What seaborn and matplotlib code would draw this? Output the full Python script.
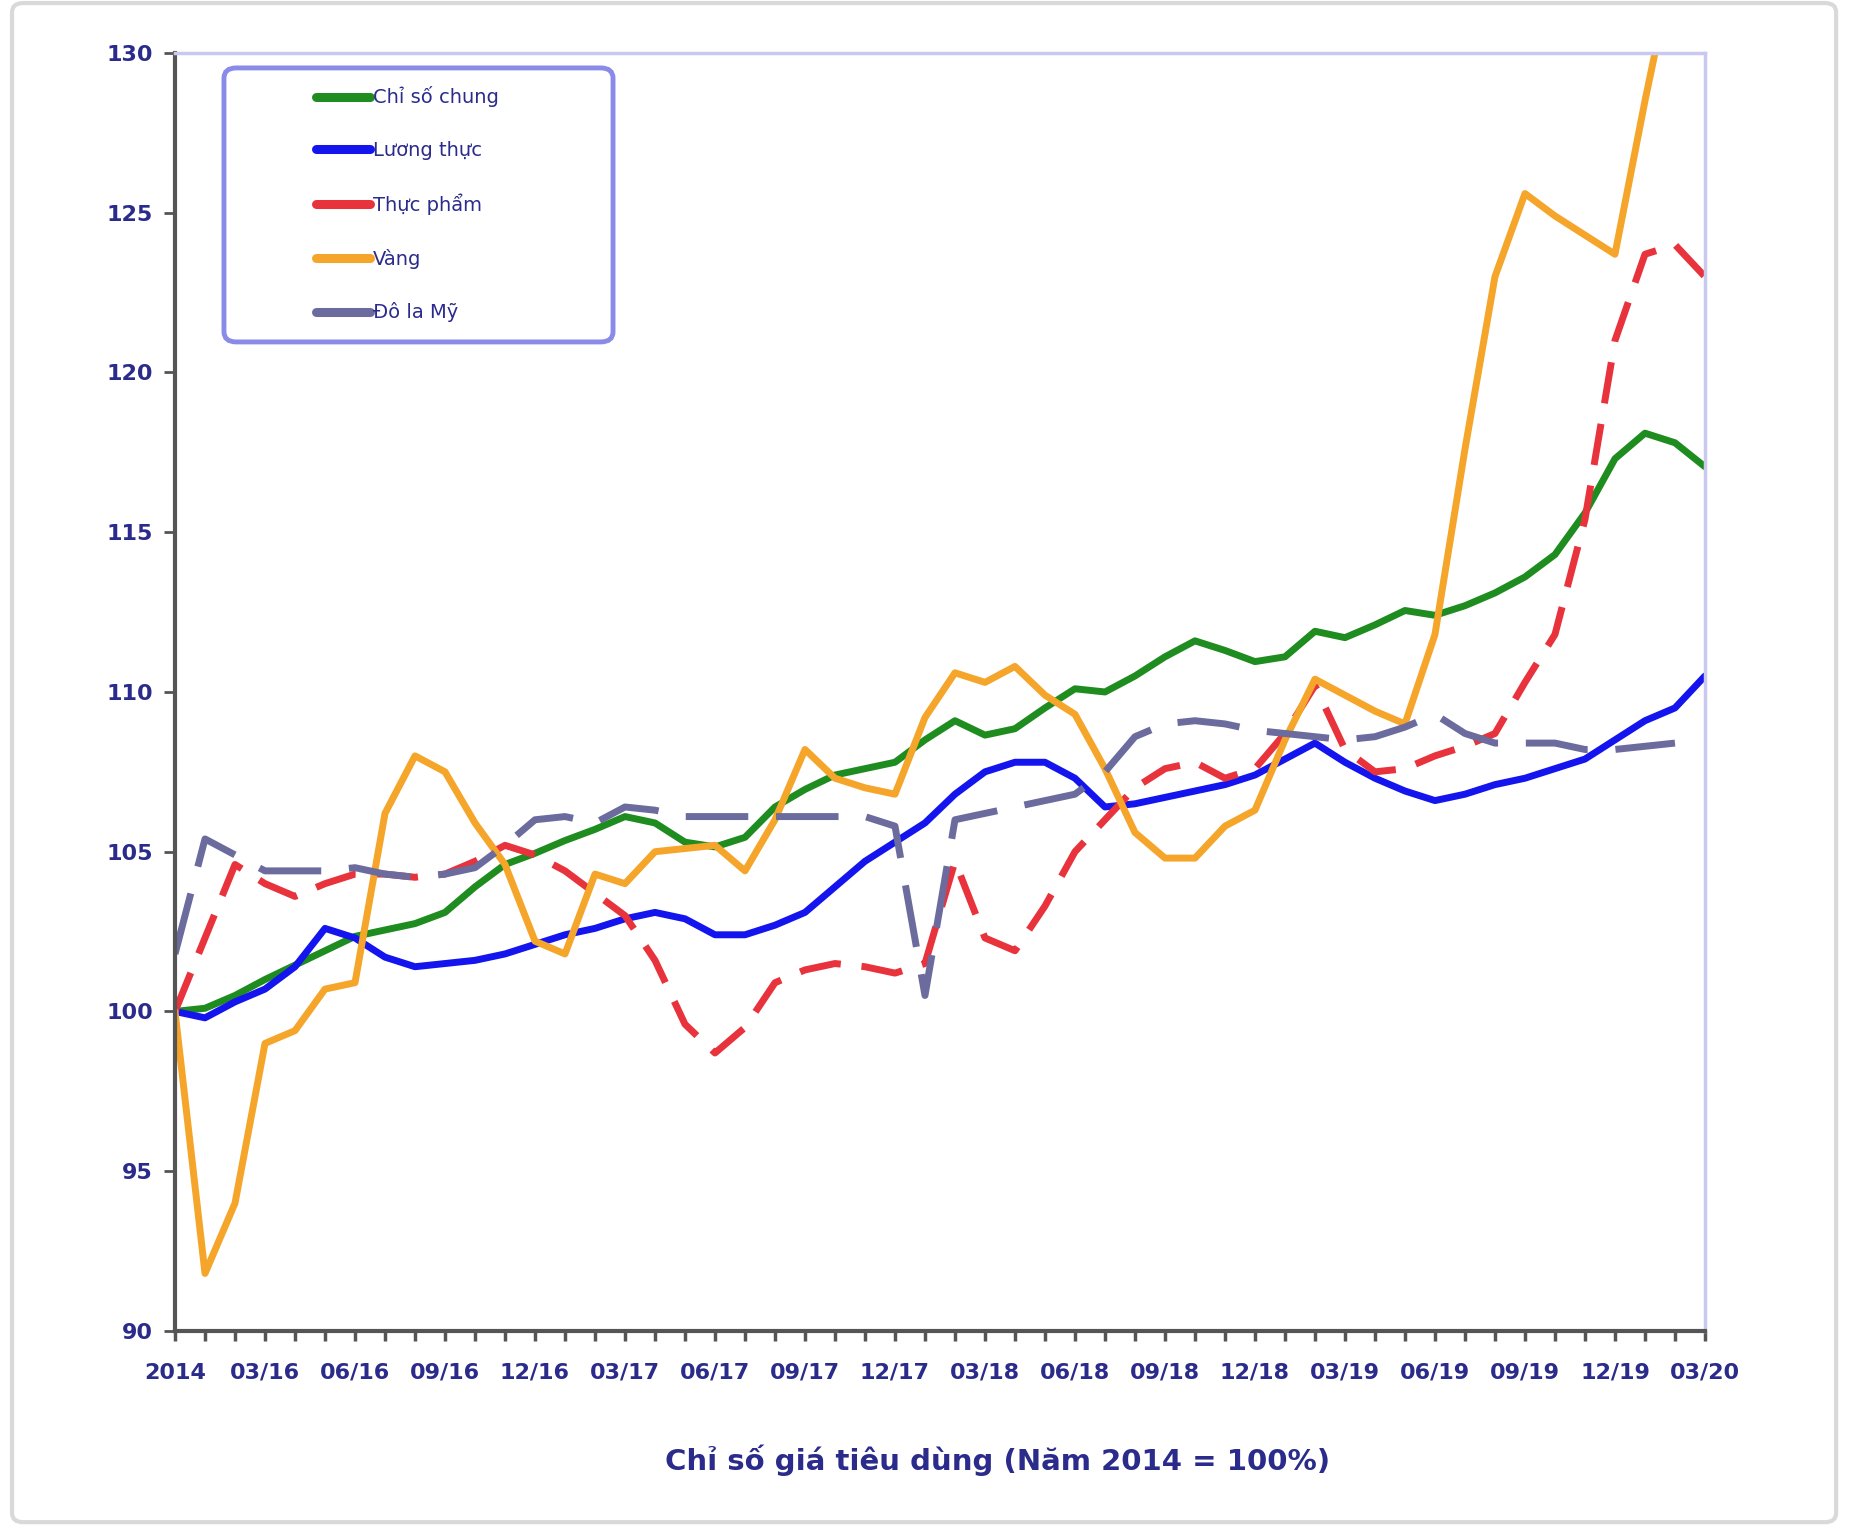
import numpy as np
import pandas as pd
import matplotlib
matplotlib.use("Agg")
import matplotlib.pyplot as plt
import seaborn as sns
from matplotlib.patches import FancyBboxPatch
from matplotlib.lines import Line2D
from matplotlib.ticker import FixedLocator

# ---------------- data ----------------
periods = ["2014",
           "01/16", "02/16", "03/16", "04/16", "05/16", "06/16", "07/16", "08/16", "09/16", "10/16", "11/16", "12/16",
           "01/17", "02/17", "03/17", "04/17", "05/17", "06/17", "07/17", "08/17", "09/17", "10/17", "11/17", "12/17",
           "01/18", "02/18", "03/18", "04/18", "05/18", "06/18", "07/18", "08/18", "09/18", "10/18", "11/18", "12/18",
           "01/19", "02/19", "03/19", "04/19", "05/19", "06/19", "07/19", "08/19", "09/19", "10/19", "11/19", "12/19",
           "01/20", "02/20", "03/20"]

tick_labels = ["2014", "03/16", "06/16", "09/16", "12/16", "03/17", "06/17", "09/17", "12/17",
               "03/18", "06/18", "09/18", "12/18", "03/19", "06/19", "09/19", "12/19", "03/20"]

cpi_general = [100.0, 100.1, 100.5, 101.0, 101.45, 101.9, 102.35, 102.55, 102.75, 103.1,
               103.9, 104.6, 104.95, 105.35, 105.7, 106.1, 105.9, 105.3, 105.15, 105.45,
               106.4, 106.95, 107.4, 107.6, 107.8, 108.5, 109.1, 108.65, 108.85, 109.5,
               110.1, 110.0, 110.5, 111.1, 111.6, 111.3, 110.95, 111.1, 111.9, 111.7,
               112.1, 112.55, 112.4, 112.7, 113.1, 113.6, 114.3, 115.6, 117.3, 118.1,
               117.8, 117.05]

cpi_grain = [100.0, 99.8, 100.3, 100.7, 101.4, 102.6, 102.3, 101.7, 101.4, 101.5,
             101.6, 101.8, 102.1, 102.4, 102.6, 102.9, 103.1, 102.9, 102.4, 102.4,
             102.7, 103.1, 103.9, 104.7, 105.3, 105.9, 106.8, 107.5, 107.8, 107.8,
             107.3, 106.4, 106.5, 106.7, 106.9, 107.1, 107.4, 107.9, 108.4, 107.8,
             107.3, 106.9, 106.6, 106.8, 107.1, 107.3, 107.6, 107.9, 108.5, 109.1,
             109.5, 110.5]

cpi_food = [100.0, 102.3, 104.6, 104.0, 103.6, 104.0, 104.3, 104.3, 104.2, 104.3,
            104.7, 105.2, 104.9, 104.4, 103.7, 103.0, 101.6, 99.6, 98.7, 99.5,
            100.9, 101.3, 101.5, 101.4, 101.2, 101.5, 104.7, 102.3, 101.9, 103.3,
            105.0, 106.0, 107.0, 107.6, 107.8, 107.3, 107.6, 108.7, 110.2, 108.2,
            107.5, 107.6, 108.0, 108.3, 108.7, 110.3, 111.8, 115.4, 121.0, 123.7,
            124.0, 123.0]

cpi_gold = [100.0, 91.8, 94.0, 99.0, 99.4, 100.7, 100.9, 106.2, 108.0, 107.5,
            105.9, 104.6, 102.2, 101.8, 104.3, 104.0, 105.0, 105.1, 105.2, 104.4,
            106.0, 108.2, 107.3, 107.0, 106.8, 109.2, 110.6, 110.3, 110.8, 109.9,
            109.3, 107.6, 105.6, 104.8, 104.8, 105.8, 106.3, 108.5, 110.4, 109.9,
            109.4, 109.0, 111.8, 117.6, 123.0, 125.6, 124.9, 124.3, 123.7, 128.5,
            133.0, 136.0]

cpi_usd = [101.8, 105.4, 104.9, 104.4, 104.4, 104.4, 104.5, 104.3, 104.2, 104.3,
           104.5, 105.2, 106.0, 106.1, 105.9, 106.4, 106.3, 106.1, 106.1, 106.1,
           106.1, 106.1, 106.1, 106.1, 105.8, 100.5, 106.0, 106.2, 106.4, 106.6,
           106.8, 107.5, 108.6, 109.0, 109.1, 109.0, 108.8, 108.7, 108.6, 108.5,
           108.6, 108.9, 109.3, 108.7, 108.4, 108.4, 108.4, 108.2, 108.2, 108.3,
           108.4, np.nan]

series_names = ["Chỉ số chung", "Lương thực", "Thực phẩm", "Vàng", "Đô la Mỹ"]
y_ticks = [90, 95, 100, 105, 110, 115, 120, 125, 130]

df = pd.DataFrame({
    "idx": np.arange(len(periods)),
    "period": periods,
    "Chỉ số chung": cpi_general,
    "Lương thực": cpi_grain,
    "Thực phẩm": cpi_food,
    "Vàng": cpi_gold,
    "Đô la Mỹ": cpi_usd,
})

# ---------------- style ----------------
sns.set_style("white")
plt.rcParams["font.family"] = ["DejaVu Sans"]

text_color = "#2b2b8c"
colors = ["#1f8c1f", "#1414ee", "#e8323c", "#f5a52a", "#6b6b9e"]
styles = ["-", "-", (0, (6, 3)), "-", (0, (9, 4))]

fig = plt.figure(figsize=(18.5, 15.36), dpi=100)
fig.patch.set_facecolor("white")
ax = fig.add_axes([0.0946, 0.1335, 0.827, 0.832])

for name, c, ls in zip(series_names, colors, styles):
    sns.lineplot(data=df, x="idx", y=name, color=c, linewidth=5, linestyle=ls,
                 estimator=None, ax=ax, legend=False)

ax.set_xlim(0, len(periods) - 1)
ax.set_ylim(90, 130)
ax.set_xlabel("")
ax.set_ylabel("")

# ticks
label_pos = [periods.index(t) for t in tick_labels]
ax.xaxis.set_major_locator(FixedLocator(label_pos))
ax.set_xticklabels(tick_labels)
ax.xaxis.set_minor_locator(FixedLocator(list(range(len(periods)))))
ax.set_yticks(y_ticks)
ax.set_yticklabels([str(v) for v in y_ticks])

ax.tick_params(axis="x", which="both", direction="out", length=7, width=2.5,
               color="#555555", bottom=True)
ax.tick_params(axis="x", which="major", labelsize=16, labelcolor=text_color, pad=16)
ax.tick_params(axis="y", direction="out", length=8, width=2, color="#555555",
               left=True, labelsize=16, labelcolor=text_color, pad=8)
for lab in ax.get_xticklabels() + ax.get_yticklabels():
    lab.set_fontweight("bold")

for side in ["left", "bottom"]:
    ax.spines[side].set_color("#555555")
    ax.spines[side].set_linewidth(3)
for side in ["top", "right"]:
    ax.spines[side].set_color("#c8c8f0")
    ax.spines[side].set_linewidth(2.5)
ax.grid(False)

# legend
frame = FancyBboxPatch((0.032, 0.7739), 0.2543, 0.2144,
                       boxstyle="round,pad=0,rounding_size=0.008",
                       transform=ax.transAxes, facecolor="white",
                       edgecolor="#8a8ae8", linewidth=3.5, zorder=5)
ax.add_patch(frame)
handles = [Line2D([0], [0], color=c, linewidth=6.5) for c in colors]
leg = ax.legend(handles, series_names, loc="upper left",
                bbox_to_anchor=(0.0855, 0.9815), frameon=False, borderpad=0,
                handlelength=2.8, handletextpad=0.15, labelspacing=1.73,
                fontsize=14, labelcolor=text_color)
leg.set_zorder(6)

# x label
fig.text(0.539, 0.049, "Chỉ số giá tiêu dùng (Năm 2014 = 100%)", ha="center",
         va="center", fontsize=21, fontweight="bold", color=text_color)

# outer border
border = FancyBboxPatch((0.0065, 0.009), 0.986, 0.989,
                        boxstyle="round,pad=0,rounding_size=0.006",
                        transform=fig.transFigure, fill=False,
                        edgecolor="#d9d9d9", linewidth=3)
fig.patches.append(border)

fig.savefig("out.png", dpi=100)
